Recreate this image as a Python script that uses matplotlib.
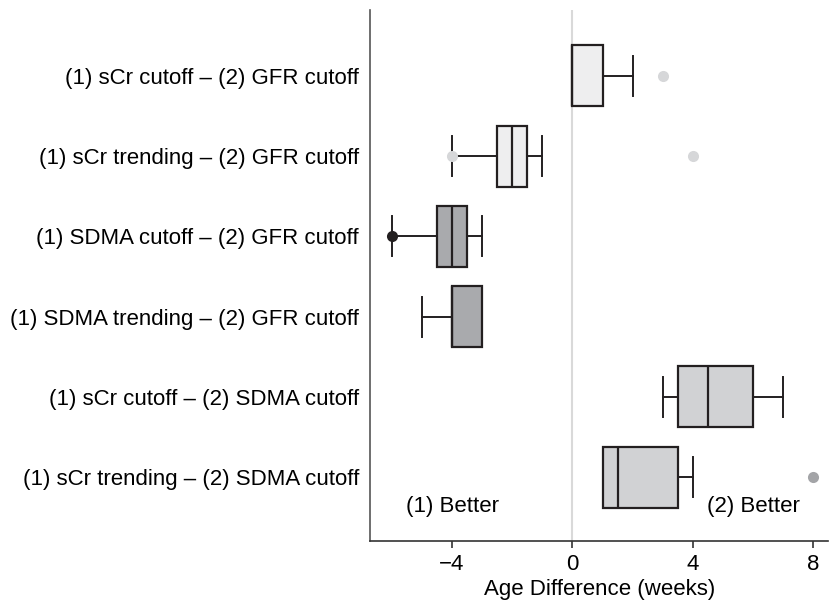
import matplotlib
matplotlib.use("Agg")
import matplotlib.pyplot as plt

plt.rcParams['font.family'] = ['Liberation Sans', 'DejaVu Sans']
plt.rcParams['axes.unicode_minus'] = True

# comparisons, top to bottom
labels = ["(1) sCr cutoff \u2013 (2) GFR cutoff",
          "(1) sCr trending \u2013 (2) GFR cutoff",
          "(1) SDMA cutoff \u2013 (2) GFR cutoff",
          "(1) SDMA trending \u2013 (2) GFR cutoff",
          "(1) sCr cutoff \u2013 (2) SDMA cutoff",
          "(1) sCr trending \u2013 (2) SDMA cutoff"]
whislo = [0, -4, -6, -5, 3, 1]
q1 = [0, -2.5, -4.5, -4, 3.5, 1]
med = [0, -2, -4, -4, 4.5, 1.5]
q3 = [1, -1.5, -3.5, -3, 6, 3.5]
whishi = [2, -1, -3, -3, 7, 4]
fliers = [[3], [-4, 4], [-6], [], [], [8]]

box_colors = ["#eeeeef", "#eeeeef", "#a9aaad", "#a9aaad", "#d1d2d4", "#d1d2d4"]
flier_colors = ["#d6d7d9", "#d6d7d9", "#231f20", "#a9aaad", "#a9aaad", "#a3a4a7"]

fig = plt.figure(figsize=(8.3, 6), dpi=100)
ax = fig.add_axes([0.446, 0.098, 0.552, 0.885])

n = len(labels)
positions = list(range(n, 0, -1))
stats = []
for i in range(n):
    stats.append(dict(whislo=whislo[i], q1=q1[i], med=med[i], q3=q3[i],
                      whishi=whishi[i], fliers=[], label=labels[i]))

ax.axvline(0, color="#d9d9d9", lw=1.5, zorder=0)

dark = "#231f20"
bp = ax.bxp(stats, positions=positions, vert=False, widths=0.76,
            patch_artist=True, showfliers=False,
            boxprops=dict(edgecolor=dark, linewidth=1.6),
            medianprops=dict(color=dark, linewidth=1.6),
            whiskerprops=dict(color=dark, linewidth=1.4),
            capprops=dict(color=dark, linewidth=1.4), capwidths=0.5)
for patch, c in zip(bp['boxes'], box_colors):
    patch.set_facecolor(c)

# caps are not drawn where whisker coincides with box edge
for i in range(n):
    if whislo[i] == q1[i]:
        bp['caps'][2 * i].set_visible(False)
    if whishi[i] == q3[i]:
        bp['caps'][2 * i + 1].set_visible(False)

for i in range(n):
    for f in fliers[i]:
        ax.plot(f, positions[i], 'o', ms=8, color=flier_colors[i],
                mec='none', zorder=5)

ax.set_xlim(-6.72, 8.5)
ax.set_ylim(0.2, 6.82)
ax.set_xticks([-4, 0, 4, 8])
ax.set_xticklabels(["\u22124", "0", "4", "8"])
ax.tick_params(axis='x', labelsize=16, length=5, width=1.2, color="#333333", pad=4)
ax.tick_params(axis='y', labelsize=16, length=0, pad=8)
ax.set_xlabel("Age Difference (weeks)", fontsize=16, labelpad=3)

for s in ['top', 'right']:
    ax.spines[s].set_visible(False)
ax.spines['left'].set_color("#555555")
ax.spines['left'].set_linewidth(1.2)
ax.spines['bottom'].set_color("#333333")
ax.spines['bottom'].set_linewidth(1.2)

ax.text(-4.0, 0.63, "(1) Better", fontsize=16, ha='center', va='center')
ax.text(6.0, 0.63, "(2) Better", fontsize=16, ha='center', va='center')

fig.savefig("out.png", dpi=100)
